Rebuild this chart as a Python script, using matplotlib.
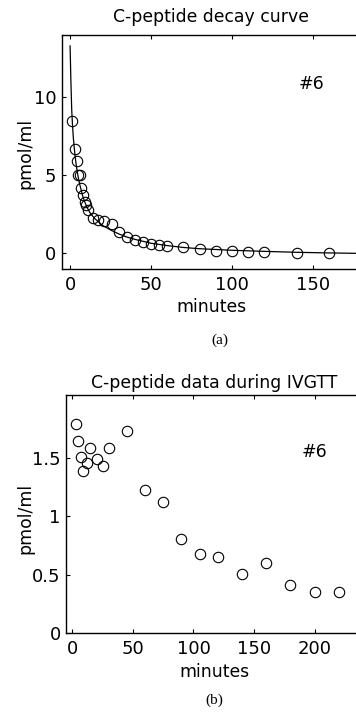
import matplotlib
matplotlib.use("Agg")
import matplotlib.pyplot as plt

# (a) decay data after C-peptide bolus
decay_t = [1, 3, 4, 5, 6, 7, 8, 9, 10, 11, 14, 17, 21, 26, 30, 35, 40, 45, 50, 55,
           60, 70, 80, 90, 100, 110, 120, 140, 160]
decay_c = [8.5, 6.7, 5.9, 5.05, 5.0, 4.2, 3.75, 3.3, 3.1, 2.8, 2.25, 2.15, 2.1, 1.9,
           1.35, 1.05, 0.85, 0.72, 0.62, 0.57, 0.47, 0.4, 0.28, 0.18, 0.16, 0.12,
           0.08, 0.02, 0.0]

# fitted curve
fit_t = [0, 0.5, 1, 1.5, 2, 3, 4, 5, 6, 7, 8, 10, 12, 15, 20, 25, 30, 35, 40, 50,
         60, 70, 80, 100, 120, 140, 160, 180]
fit_c = [13.3, 11.0, 9.2, 8.2, 7.4, 6.3, 5.5, 4.9, 4.4, 4.0, 3.6, 3.05, 2.65, 2.25,
         1.8, 1.5, 1.25, 1.05, 0.9, 0.65, 0.5, 0.38, 0.3, 0.2, 0.13, 0.07, 0.03, 0.0]

# (b) C-peptide during IVGTT
ivgtt_t = [3, 5, 7, 9, 12, 15, 20, 25, 30, 45, 60, 75, 90, 105, 120, 140, 160, 180, 200, 220]
ivgtt_c = [1.79, 1.65, 1.51, 1.39, 1.46, 1.59, 1.49, 1.43, 1.59, 1.73, 1.23, 1.12,
           0.81, 0.68, 0.65, 0.51, 0.60, 0.41, 0.35, 0.35]

W, H = 356, 714
fig = plt.figure(figsize=(W / 100, H / 100), dpi=100)


def px_axes(left, top, right, bottom):
    return fig.add_axes([left / W, 1 - bottom / H, (right - left) / W, (bottom - top) / H])


def style(ax):
    ax.tick_params(direction='in', length=3, width=0.8, top=True, right=True,
                   labelsize=13)
    for s in ax.spines.values():
        s.set_linewidth(1.0)


mk = dict(marker='o', markersize=7.5, markerfacecolor='none', markeredgecolor='black',
          markeredgewidth=0.8, linestyle='none')

# ---- (a)
ax1 = px_axes(62, 35, 361.6, 269)
ax1.plot(fit_t, fit_c, color='black', linewidth=0.9)
ax1.plot(decay_t, decay_c, **mk)
ax1.set_xlim(-5, 180)
ax1.set_ylim(-1, 14)
ax1.set_xticks([0, 50, 100, 150])
ax1.set_yticks([0, 5, 10])
style(ax1)
ax1.tick_params(axis='x', pad=5)
ax1.tick_params(axis='y', pad=4)
ax1.text(149, 10.85, '#6', ha='center', va='center', fontsize=12.5)
fig.text(211 / W, 1 - 17 / H, 'C-peptide decay curve', ha='center', va='center', fontsize=12.4)
fig.text(211 / W, 1 - 307 / H, 'minutes', ha='center', va='center', fontsize=12.4)
fig.text(25 / W, 1 - 153 / H, 'pmol/ml', ha='center', va='center', rotation=90, fontsize=12.4)
fig.text(220 / W, 1 - 340 / H, '(a)', ha='center', va='center', fontsize=11,
         family='Liberation Serif')

# ---- (b)
ax2 = px_axes(66.2, 395, 363.2, 633.3)
ax2.plot(ivgtt_t, ivgtt_c, **mk)
ax2.set_xlim(-5, 240)
ax2.set_ylim(0, 2.04)
ax2.set_xticks([0, 50, 100, 150, 200])
ax2.set_yticks([0, 0.5, 1, 1.5])
ax2.set_yticklabels(['0', '0.5', '1', '1.5'])
style(ax2)
ax2.tick_params(axis='x', pad=5)
ax2.tick_params(axis='y', pad=4)
ax2.text(200, 1.556, '#6', ha='center', va='center', fontsize=12.5)
fig.text(214 / W, 1 - 383 / H, 'C-peptide data during IVGTT', ha='center', va='center', fontsize=12.4)
fig.text(214 / W, 1 - 672 / H, 'minutes', ha='center', va='center', fontsize=12.4)
fig.text(25 / W, 1 - 518 / H, 'pmol/ml', ha='center', va='center', rotation=90, fontsize=12.4)
fig.text(214 / W, 1 - 700 / H, '(b)', ha='center', va='center', fontsize=11,
         family='Liberation Serif')

fig.savefig('out.png', dpi=100)
